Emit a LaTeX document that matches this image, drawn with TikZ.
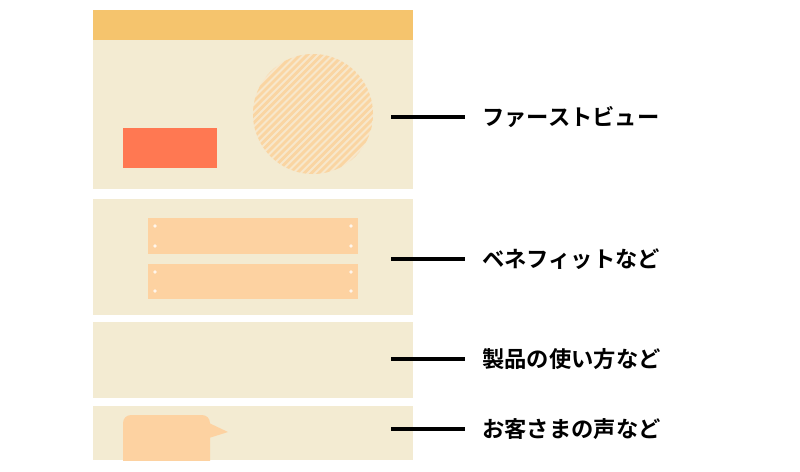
\documentclass[tikz,border=0pt]{standalone}
\usepackage{fontspec}
\newfontfamily\jpfont{Noto Sans CJK JP Bold}
\definecolor{panelbg}{HTML}{F3EBD2}
\definecolor{header}{HTML}{F5C46D}
\definecolor{redbtn}{HTML}{FF7852}
\definecolor{peach}{HTML}{FDD2A1}
\definecolor{circbg}{HTML}{F7E7CB}
\definecolor{stripe}{HTML}{FAD5A2}
\tikzset{
  panel/.style={fill=panelbg, draw=none, inner sep=0pt, outer sep=0pt},
  lbl/.style={font=\jpfont\fontsize{22.3}{25}\selectfont, anchor=west, inner sep=0pt, text=black},
  leader/.style={line width=3.2pt, black},
  dot/.style={fill=white!80!peach, draw=none}
}
\begin{document}
\begin{tikzpicture}[x=1pt,y=-1pt]
\useasboundingbox (0,0) rectangle (800,471);
\fill[white] (0,0) rectangle (800,471);
% panels
\fill[header] (93,10) rectangle (413,40);
\fill[panel] (93,40) rectangle (413,189);
\fill[panel] (93,199) rectangle (413,315);
\fill[panel] (93,322) rectangle (413,398);
\fill[panel] (93,406) rectangle (413,460);
% hatched circle
\begin{scope}
  \clip (313,114) circle (60);
  \fill[circbg] (313,114) circle (60);
  \foreach \k in {-20,...,20} {
    \draw[stripe, line width=2.8pt] (313+\k*7.2-80,114+80) -- (313+\k*7.2+80,114-80);
  }
\end{scope}
% red button
\fill[redbtn] (123,128) rectangle (217,168);
% benefit bars
\foreach \yt/\yb in {218/254, 264/299} {
  \fill[peach] (148,\yt) rectangle (358,\yb);
  \fill[dot] (155,\yt+8) circle (1.8);
  \fill[dot] (155,\yb-8) circle (1.8);
  \fill[dot] (351,\yt+8) circle (1.8);
  \fill[dot] (351,\yb-8) circle (1.8);
}
% speech bubble
\begin{scope}
  \clip (93,406) rectangle (413,460);
  \fill[peach, rounded corners=8pt] (123,470) -- (123,415) -- (210,415) -- (210,470) -- cycle;
  \fill[peach] (209,423) -- (228,432) -- (209,438) -- cycle;
\end{scope}
% labels
\node[lbl] (l1) at (482,117) {ファーストビュー};
\node[lbl] (l2) at (482,259) {ベネフィットなど};
\node[lbl] (l3) at (482,359) {製品の使い方など};
\node[lbl] (l4) at (482,429) {お客さまの声など};
\coordinate (s1) at (391,117);
\coordinate (s2) at (391,259);
\coordinate (s3) at (391,359);
\coordinate (s4) at (391,429);
\draw[leader] (s1) -- ([xshift=-17pt]l1.west);
\draw[leader] (s2) -- ([xshift=-17pt]l2.west);
\draw[leader] (s3) -- ([xshift=-17pt]l3.west);
\draw[leader] (s4) -- ([xshift=-17pt]l4.west);
\end{tikzpicture}
\end{document}
